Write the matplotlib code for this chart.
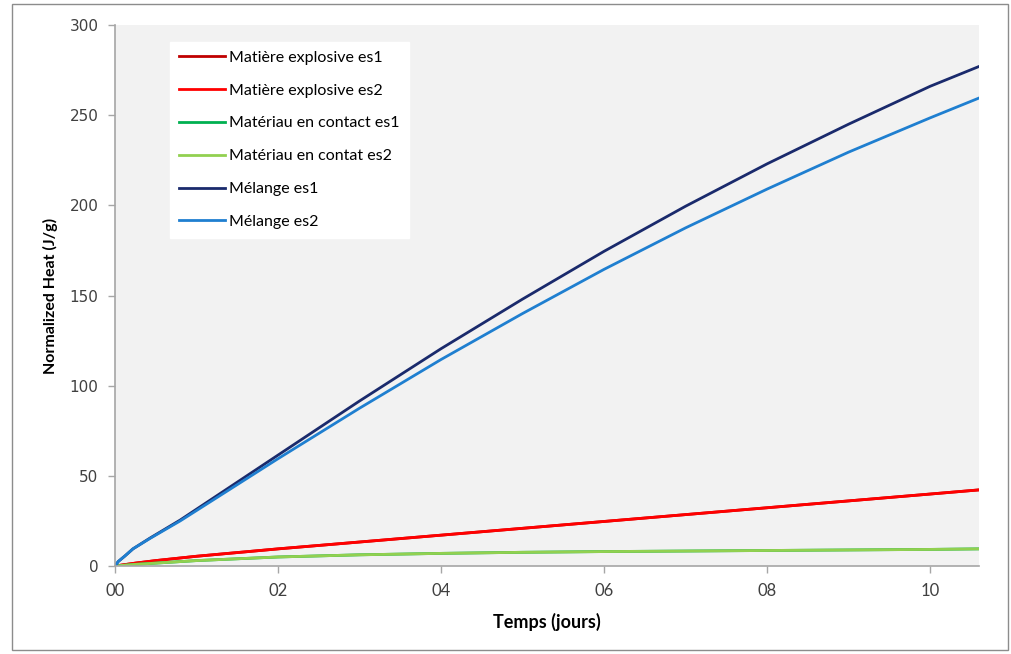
import numpy as np
import matplotlib.pyplot as plt
from matplotlib.patches import Rectangle
from matplotlib.ticker import FuncFormatter, MultipleLocator

plt.rcParams['font.family'] = ['Lato', 'DejaVu Sans']

# time (days) and normalized heat (J/g)
t_melange = [0, 0.04, 0.12, 0.22, 0.43, 0.8, 1.2, 2, 3, 4, 5, 6, 7, 8, 9, 10, 10.6]
melange_es1 = [0, 2.5, 5.5, 9.5, 15.5, 25.5, 37.5, 61.5, 91.5, 120.5, 148, 174.5, 199.5, 223, 245, 266, 277]
melange_es2 = [0, 2.5, 5.5, 9.5, 15.3, 25, 36.5, 59.5, 87.5, 114.5, 140, 164.5, 187.5, 209, 229.5, 248.5, 259.5]

t_other = [0, 0.25, 0.5, 1, 2, 3, 4, 5, 6, 7, 8, 9, 10, 10.6]
explosive_es1 = [0, 1.6, 3, 5.4, 9.5, 13.3, 17.1, 20.9, 24.7, 28.5, 32.3, 36.1, 39.9, 42.2]
explosive_es2 = [0, 1.6, 3, 5.4, 9.5, 13.3, 17.1, 20.9, 24.7, 28.5, 32.3, 36.1, 39.9, 42.2]
contact_es1 = [0, 0.9, 1.6, 3, 5, 6.2, 7, 7.6, 8, 8.3, 8.6, 8.9, 9.2, 9.5]
contact_es2 = [0, 0.9, 1.6, 3, 5, 6.2, 7, 7.6, 8, 8.3, 8.6, 8.9, 9.2, 9.5]

y_ticks = [0, 50, 100, 150, 200, 250, 300]

fig = plt.figure(figsize=(10.11, 6.54), dpi=100)
fig.patches.append(Rectangle((12 / 1011, 4 / 654), 996 / 1011, 646 / 654,
                             transform=fig.transFigure, fill=False,
                             edgecolor='#8c8c8c', linewidth=1.0))
ax = fig.add_axes([115 / 1011, 88 / 654, 864 / 1011, 541 / 654])
ax.set_facecolor('#f2f2f2')

lw = 2.0
ax.plot(t_other, explosive_es1, color='#c00000', lw=lw, label='Matière explosive es1')
ax.plot(t_other, explosive_es2, color='#ff0000', lw=lw, label='Matière explosive es2')
ax.plot(t_other, contact_es1, color='#00b050', lw=lw, label='Matériau en contact es1')
ax.plot(t_other, contact_es2, color='#92d050', lw=lw, label='Matériau en contat es2')
ax.plot(t_melange, melange_es1, color='#1a2a6c', lw=lw, label='Mélange es1')
ax.plot(t_melange, melange_es2, color='#1f7fd0', lw=lw, label='Mélange es2')

ax.set_xlim(0, 10.6)
ax.set_ylim(0, 300)
ax.xaxis.set_major_locator(MultipleLocator(2))
ax.xaxis.set_major_formatter(FuncFormatter(lambda v, p: f'{v:02.0f}'))
ax.set_yticks(y_ticks, [str(v) for v in y_ticks], fontfamily='DejaVu Sans', fontsize=11)

for s in ['top', 'right']:
    ax.spines[s].set_visible(False)
for s in ['left', 'bottom']:
    ax.spines[s].set_color('#a6a6a6')
    ax.spines[s].set_linewidth(1.2)
ax.tick_params(axis='both', colors='#a6a6a6', length=5, width=1.0,
               labelcolor='#404040')
ax.tick_params(axis='x', pad=7, labelsize=12)
ax.tick_params(axis='y', pad=7)

ax.set_xlabel('Temps (jours)', fontweight='bold', fontsize=13, labelpad=10)
ax.set_ylabel('Normalized Heat (J/g)', fontweight='bold', fontsize=11.5, labelpad=8)

leg = ax.legend(loc='upper left', bbox_to_anchor=(0.064, 0.969), borderaxespad=0,
                frameon=True, fancybox=False, fontsize=11.5, handlelength=2.9,
                handletextpad=0.25, labelspacing=1.17, borderpad=0.55)
leg.get_frame().set_facecolor('white')
leg.get_frame().set_edgecolor('white')
leg.get_frame().set_alpha(1)

fig.savefig('out.png', dpi=100)
